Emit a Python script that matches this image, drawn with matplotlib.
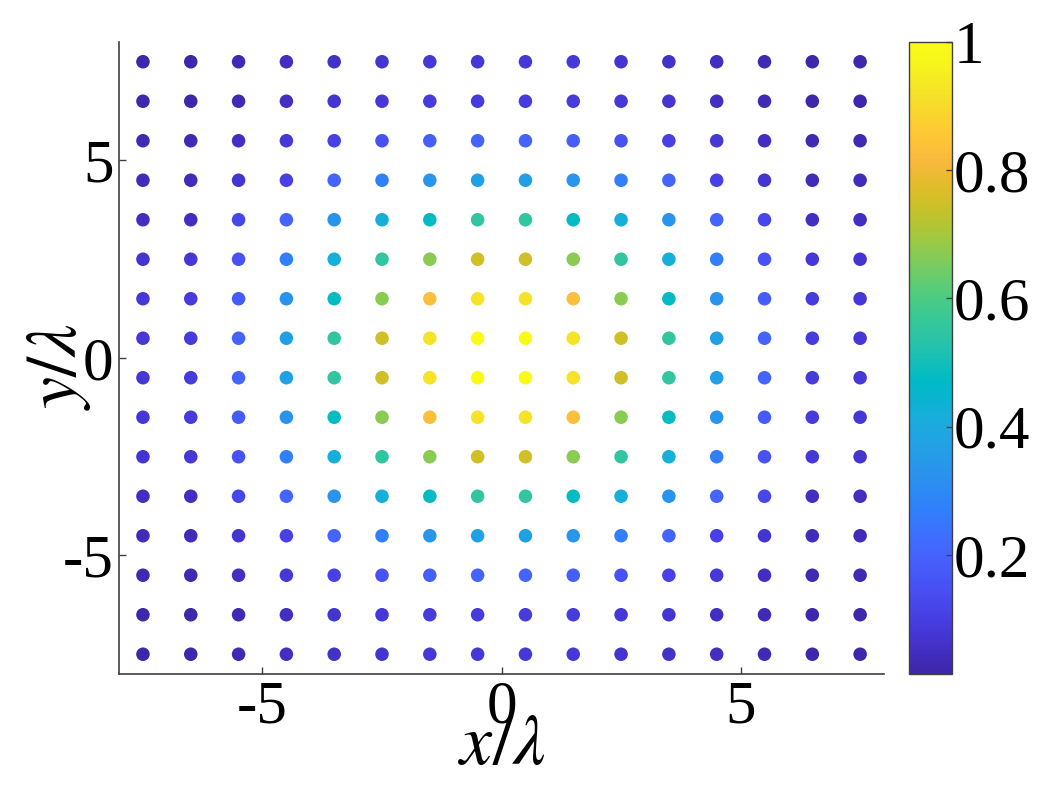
import numpy as np
import matplotlib
matplotlib.use("Agg")
import matplotlib.pyplot as plt
from matplotlib.colors import LinearSegmentedColormap

# grid positions (in units of lambda)
x_pos = [-7.5, -6.5, -5.5, -4.5, -3.5, -2.5, -1.5, -0.5, 0.5, 1.5, 2.5, 3.5, 4.5, 5.5, 6.5, 7.5]
y_pos = [7.5, 6.5, 5.5, 4.5, 3.5, 2.5, 1.5, 0.5, -0.5, -1.5, -2.5, -3.5, -4.5, -5.5, -6.5, -7.5]

# normalised intensity, rows top (y=7.5) to bottom (y=-7.5)
intensity = [
    [0.02, 0.02, 0.03, 0.05, 0.06, 0.07, 0.08, 0.08, 0.08, 0.08, 0.07, 0.06, 0.05, 0.03, 0.02, 0.02],
    [0.02, 0.02, 0.03, 0.05, 0.07, 0.08, 0.09, 0.09, 0.09, 0.09, 0.08, 0.07, 0.05, 0.03, 0.02, 0.02],
    [0.03, 0.03, 0.05, 0.08, 0.11, 0.15, 0.19, 0.20, 0.20, 0.19, 0.15, 0.11, 0.08, 0.05, 0.03, 0.03],
    [0.04, 0.04, 0.07, 0.11, 0.20, 0.27, 0.34, 0.37, 0.37, 0.34, 0.27, 0.20, 0.11, 0.07, 0.04, 0.04],
    [0.05, 0.05, 0.12, 0.20, 0.33, 0.42, 0.48, 0.55, 0.55, 0.48, 0.42, 0.33, 0.20, 0.12, 0.05, 0.05],
    [0.07, 0.08, 0.15, 0.27, 0.42, 0.55, 0.67, 0.75, 0.75, 0.67, 0.55, 0.42, 0.27, 0.15, 0.08, 0.07],
    [0.08, 0.09, 0.18, 0.33, 0.48, 0.67, 0.83, 0.92, 0.92, 0.83, 0.67, 0.48, 0.33, 0.18, 0.09, 0.08],
    [0.08, 0.09, 0.20, 0.37, 0.55, 0.75, 0.92, 1.00, 1.00, 0.92, 0.75, 0.55, 0.37, 0.20, 0.09, 0.08],
    [0.08, 0.09, 0.20, 0.37, 0.55, 0.75, 0.92, 1.00, 1.00, 0.92, 0.75, 0.55, 0.37, 0.20, 0.09, 0.08],
    [0.08, 0.09, 0.18, 0.33, 0.48, 0.67, 0.83, 0.92, 0.92, 0.83, 0.67, 0.48, 0.33, 0.18, 0.09, 0.08],
    [0.07, 0.08, 0.15, 0.27, 0.42, 0.55, 0.67, 0.75, 0.75, 0.67, 0.55, 0.42, 0.27, 0.15, 0.08, 0.07],
    [0.05, 0.05, 0.12, 0.20, 0.33, 0.42, 0.48, 0.55, 0.55, 0.48, 0.42, 0.33, 0.20, 0.12, 0.05, 0.05],
    [0.04, 0.04, 0.07, 0.11, 0.20, 0.27, 0.34, 0.37, 0.37, 0.34, 0.27, 0.20, 0.11, 0.07, 0.04, 0.04],
    [0.03, 0.03, 0.05, 0.08, 0.11, 0.15, 0.19, 0.20, 0.20, 0.19, 0.15, 0.11, 0.08, 0.05, 0.03, 0.03],
    [0.02, 0.02, 0.03, 0.05, 0.07, 0.08, 0.09, 0.09, 0.09, 0.09, 0.08, 0.07, 0.05, 0.03, 0.02, 0.02],
    [0.02, 0.02, 0.03, 0.05, 0.06, 0.07, 0.08, 0.08, 0.08, 0.08, 0.07, 0.06, 0.05, 0.03, 0.02, 0.02],
]

x_ticks = [-5, 0, 5]
y_ticks = [-5, 0, 5]
cbar_ticks = [0.2, 0.4, 0.6, 0.8, 1.0]
cbar_ticklabels = ["0.2", "0.4", "0.6", "0.8", "1"]

# MATLAB parula (R2017a+) anchor colours
parula_rgb = [
    (0.2422, 0.1504, 0.6603), (0.2578, 0.1818, 0.7511), (0.2706, 0.2147, 0.8364),
    (0.2783, 0.2559, 0.8991), (0.2813, 0.3006, 0.9414), (0.2795, 0.3447, 0.9717),
    (0.2699, 0.3892, 0.9906), (0.2440, 0.4358, 0.9988), (0.1963, 0.4847, 0.9892),
    (0.1786, 0.5289, 0.9682), (0.1687, 0.5703, 0.9359), (0.1460, 0.6091, 0.9079),
    (0.1248, 0.6459, 0.8883), (0.0952, 0.6798, 0.8598), (0.0297, 0.7082, 0.8163),
    (0.0067, 0.7312, 0.7660), (0.0964, 0.7500, 0.7120), (0.1717, 0.7670, 0.6554),
    (0.2161, 0.7843, 0.5923), (0.2906, 0.7973, 0.5188), (0.3909, 0.8029, 0.4354),
    (0.5044, 0.7993, 0.3480), (0.6174, 0.7876, 0.2612), (0.7242, 0.7698, 0.1910),
    (0.8203, 0.7498, 0.1535), (0.9035, 0.7330, 0.1774), (0.9728, 0.7298, 0.2394),
    (0.9970, 0.7659, 0.2199), (0.9892, 0.8136, 0.1885), (0.9676, 0.8639, 0.1643),
    (0.9597, 0.9135, 0.1423), (0.9691, 0.9606, 0.1064), (0.9769, 0.9839, 0.0805),
]
parula = LinearSegmentedColormap.from_list("parula", parula_rgb)

plt.rcParams['font.family'] = ['Liberation Serif', 'DejaVu Serif']
plt.rcParams['mathtext.fontset'] = 'stix'
plt.rcParams['axes.unicode_minus'] = False

X, Y = np.meshgrid(x_pos, y_pos)
C = np.array(intensity)

fig = plt.figure(figsize=(10.61, 8.06), dpi=100)
ax = fig.add_axes([0.1122, 0.1638, 0.7210, 0.7841])
cax = fig.add_axes([0.8567, 0.1638, 0.0405, 0.7841])

sc = ax.scatter(X.ravel(), Y.ravel(), c=C.ravel(), cmap=parula, vmin=0.014, vmax=1.0,
                s=95, edgecolors='none')

ax.set_xlim(-8, 8)
ax.set_ylim(-8, 8)
ax.set_xticks(x_ticks)
ax.set_yticks(y_ticks)
ax.set_xticklabels([str(t) for t in x_ticks])
ax.set_yticklabels([str(t) for t in y_ticks])
ax.tick_params(direction='in', length=5, width=1, color='#404040', labelsize=44, pad=4)
for side in ['top', 'right']:
    ax.spines[side].set_visible(False)
for side in ['left', 'bottom']:
    ax.spines[side].set_color('#404040')
    ax.spines[side].set_linewidth(1.2)

ax.set_xlabel(r'$x/\lambda$', fontsize=52, labelpad=-15)
ax.set_ylabel(r'$y/\lambda$', fontsize=52, labelpad=-22)
ax.yaxis.label.set_y(0.487)

cb = fig.colorbar(sc, cax=cax)
cb.set_ticks(cbar_ticks)
cb.set_ticklabels(cbar_ticklabels)
cb.ax.tick_params(direction='in', length=4, width=1, color='#404040', labelsize=44, pad=1)
cb.outline.set_edgecolor('#404040')
cb.outline.set_linewidth(1.0)

fig.savefig('out.png', dpi=100)
